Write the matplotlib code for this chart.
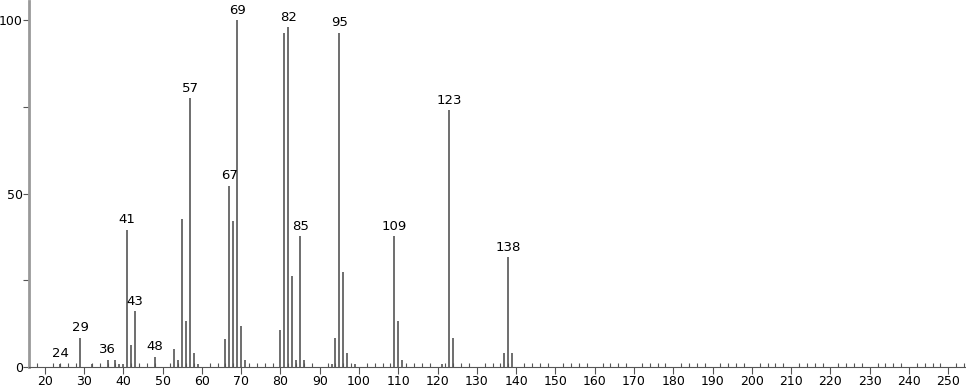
import numpy as np
import matplotlib.pyplot as plt

mz = [24, 29, 32, 36, 38, 39, 40, 41, 42, 43, 48, 53, 54, 55, 56, 57, 58, 59,
      66, 67, 68, 69, 70, 71, 80, 81, 82, 83, 84, 85, 86, 93, 94, 95, 96, 97, 99,
      109, 110, 111, 121, 123, 124, 137, 138, 139]
intensity = [1, 8.4, 1, 2.1, 2.1, 1, 1, 39.6, 6.2, 16.0, 2.9, 5.2, 2.1, 42.8, 13.2, 77.4, 4.1, 1,
             8.2, 52.3, 42.2, 100, 11.7, 2.1, 10.6, 96.3, 98, 26.1, 2.1, 37.7, 2.1, 1, 8.5, 96.4, 27.5, 4.1, 1,
             37.7, 13.2, 2.1, 1, 74, 8.4, 4.1, 31.7, 4.1]
labelled = [24, 29, 36, 41, 43, 48, 57, 67, 69, 82, 85, 95, 109, 123, 138]

fig = plt.figure(figsize=(9.66, 3.89), dpi=100)
ax = fig.add_axes([29 / 966, 22 / 389, 937 / 966, 366 / 389])

ax.vlines(mz, 0, intensity, color="#555555", linewidth=1.2)
for m, h in zip(mz, intensity):
    if m in labelled:
        ax.text(m, h + 1, str(m), ha="center", va="bottom", fontsize=9.5)

ax.set_xlim(16, 254.5)
ax.set_ylim(0, 105.5)

ax.spines["top"].set_visible(False)
ax.spines["right"].set_visible(False)
ax.spines["left"].set_color("#999999")
ax.spines["left"].set_linewidth(2)
ax.spines["bottom"].set_color("#555555")
ax.spines["bottom"].set_linewidth(0.8)

ax.set_xticks(np.arange(20, 251, 10))
ax.set_xticks(np.arange(16, 255, 2), minor=True)
ax.tick_params(axis="x", which="major", direction="out", length=5, width=0.8,
               color="#555555", labelsize=9, pad=1)
ax.tick_params(axis="x", which="minor", direction="in", length=3, width=0.8, color="#555555")

ax.set_yticks([0, 50, 100])
ax.set_yticks([25, 75], minor=True)
ax.tick_params(axis="y", which="both", direction="out", length=4, width=0.8,
               color="#555555", labelsize=9, pad=0.5)

fig.savefig("out.png", dpi=100)
